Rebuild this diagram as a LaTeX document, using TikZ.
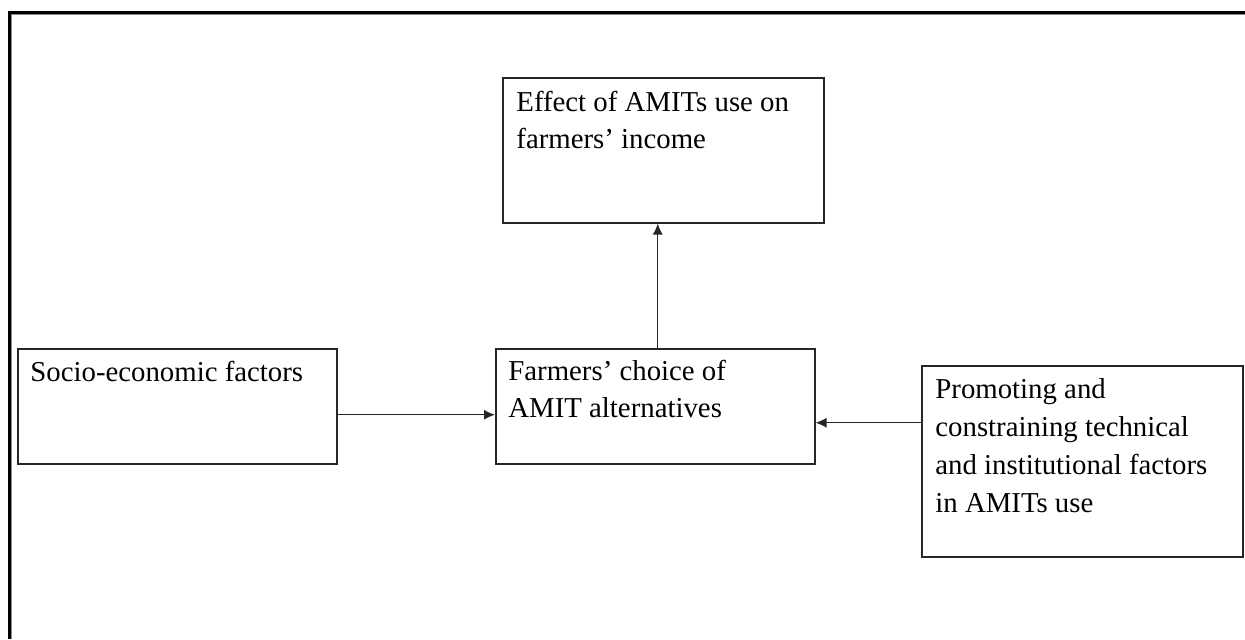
\documentclass[tikz,border=0pt]{standalone}
\usepackage{fontspec}
\setmainfont{Liberation Serif}
\usetikzlibrary{arrows.meta}
\begin{document}
\begin{tikzpicture}[x=0.5pt,y=-0.5pt,
  box/.style={draw=black!85, line width=0.75pt, inner sep=0pt, anchor=north west, fill=none},
  txt/.style={anchor=base west, inner sep=0pt, align=left, font=\fontsize{14.4}{18.5}\selectfont},
  arr/.style={draw=black!85, line width=0.7pt, -{Latex[length=5.5pt,width=5pt]}}]
\useasboundingbox (0,0) rectangle (1245,639);
% outer frame
\draw[line width=1.75pt, black] (9.7,639) -- (9.7,12.5) -- (1245,12.5);
\draw[line width=0.5pt, black!45] (11.8,639) -- (11.8,14.6) -- (1245,14.6);
% boxes
\node[box, minimum width=160.5pt, minimum height=72.5pt] (effect) at (502,77) {};
\node[box, minimum width=159.5pt, minimum height=57.5pt] (socio) at (17,348) {};
\node[box, minimum width=159.5pt, minimum height=57.5pt] (choice) at (495,348) {};
\node[box, minimum width=160.5pt, minimum height=95.5pt] (promo) at (921,365) {};
% texts (anchored at the baseline of the last line)
\node[txt] (teffect) at (516,148) {Effect of AMITs use on\\farmers’ income};
\node[txt] (tsocio) at (30,381) {Socio-economic factors};
\node[txt] (tchoice) at (508,417) {Farmers’ choice of\\AMIT alternatives};
\node[txt, font=\fontsize{14.4}{19}\selectfont] (tpromo) at (935,512) {Promoting and\\constraining technical\\and institutional factors\\in AMITs use};
% connectors
\draw[arr] ([xshift=1.25pt]choice.north) -- ([xshift=1.25pt]choice.north |- effect.south);
\draw[arr] ([yshift=-4.25pt]socio.east) -- ([yshift=-4.25pt]socio.east -| choice.west);
\draw[arr] ([yshift=19.25pt]promo.west) -- ([yshift=19.25pt]promo.west -| choice.east);
\end{tikzpicture}
\end{document}
